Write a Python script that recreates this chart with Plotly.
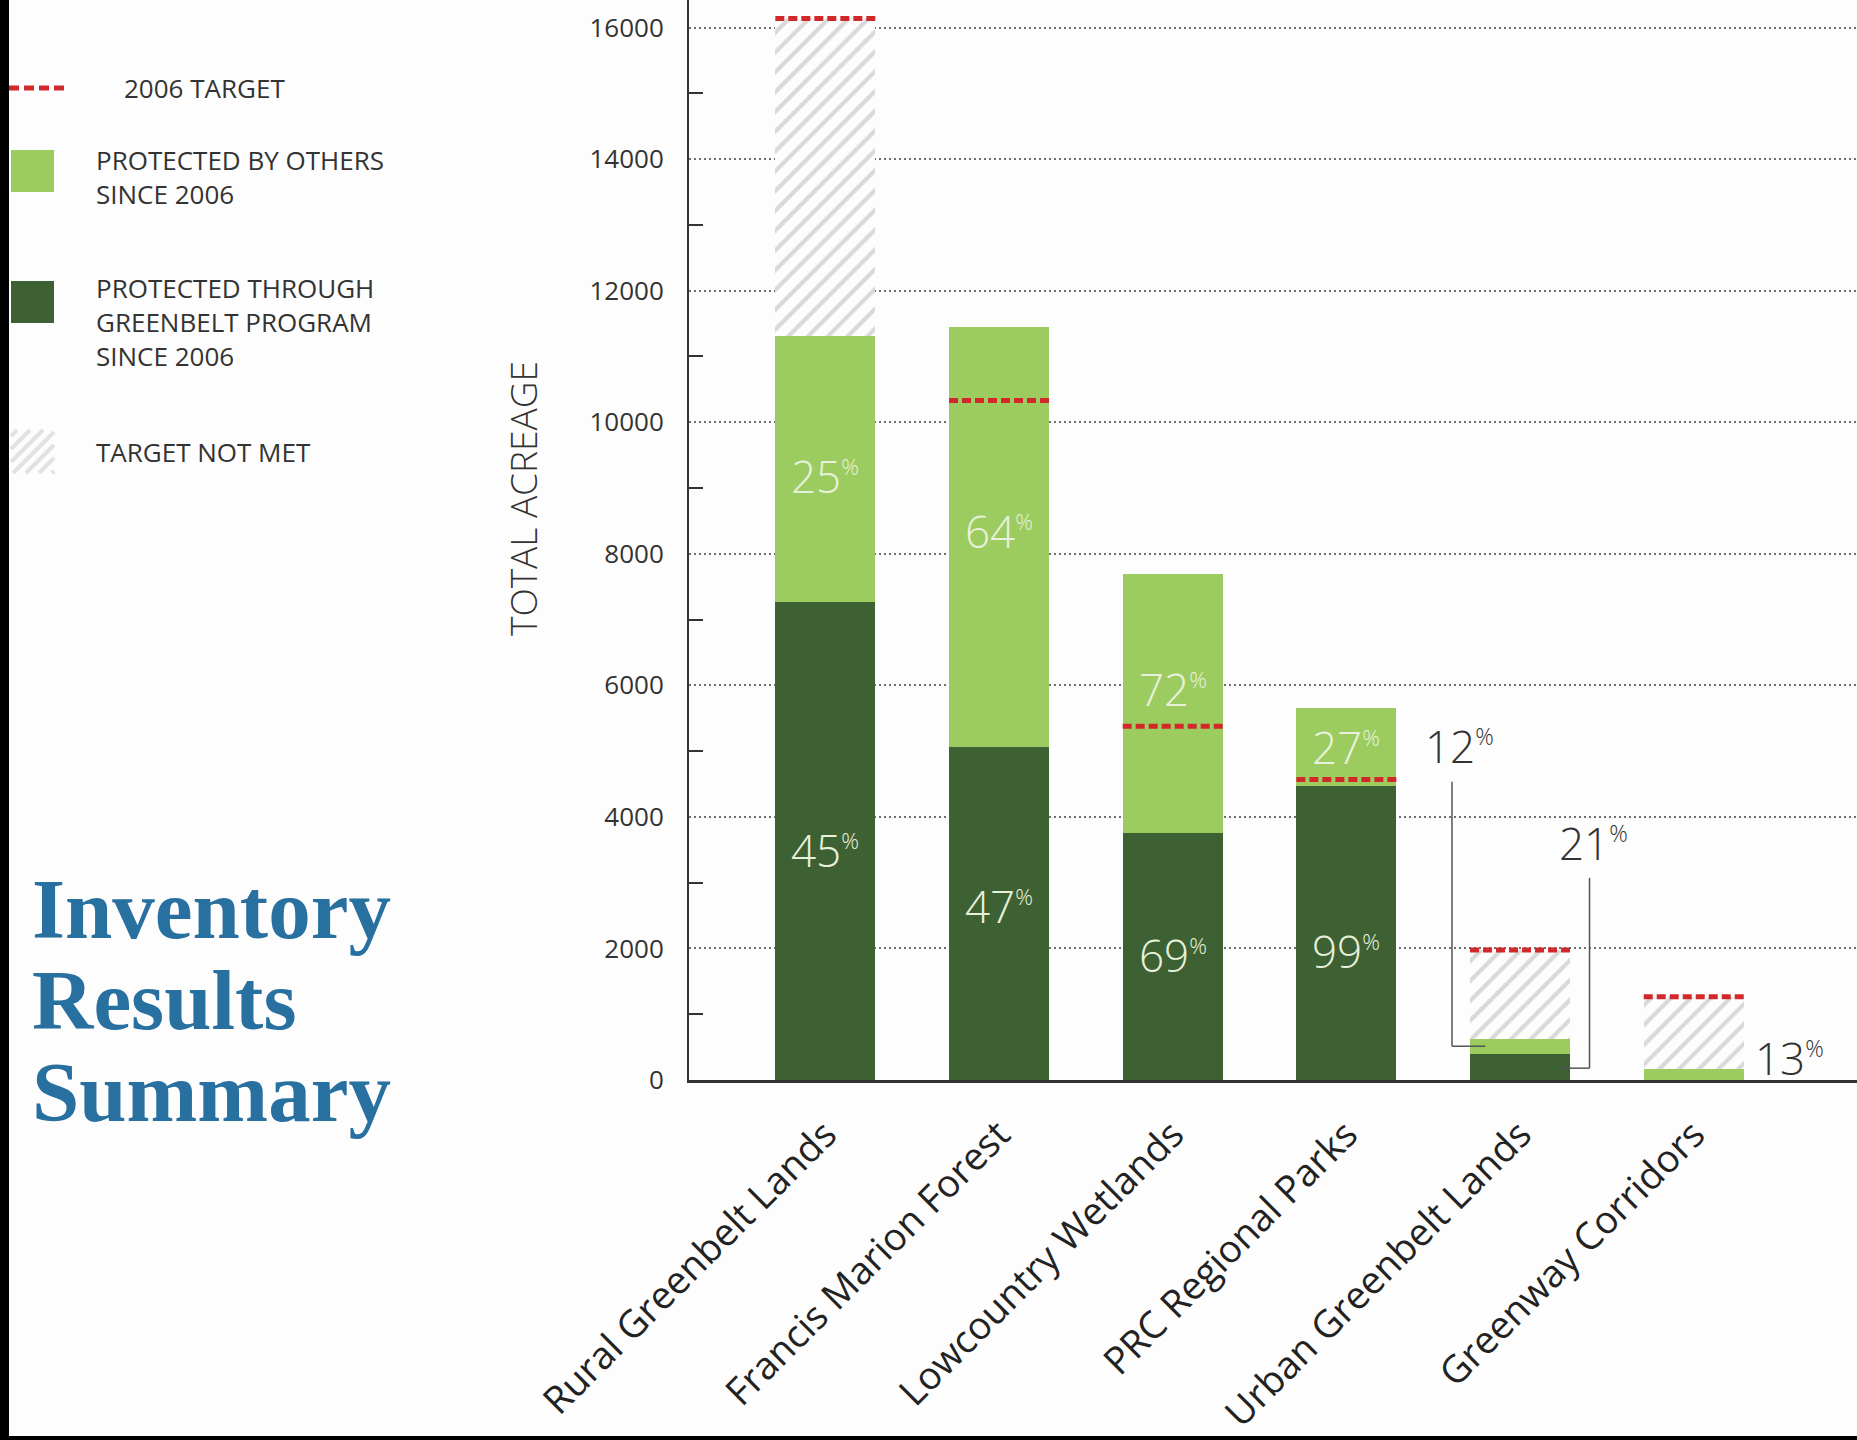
import plotly.graph_objects as go

# ---------------- data ----------------
categories = ["Rural Greenbelt Lands", "Francis Marion Forest", "Lowcountry Wetlands",
              "PRC Regional Parks", "Urban Greenbelt Lands", "Greenway Corridors"]
greenbelt_acres = [7270, 5060, 3760, 4470, 400, 0]      # protected through Greenbelt program
others_acres = [4040, 6390, 3930, 1190, 230, 165]       # protected by others
target_2006 = [16140, 10330, 5380, 4570, 1975, 1265]    # 2006 target
greenbelt_pct = [45, 47, 69, 99, 21, None]
others_pct = [25, 64, 72, 27, 12, 13]
y_ticks = [0, 2000, 4000, 6000, 8000, 10000, 12000, 14000, 16000]

# ---------------- style ----------------
W, H = 1857, 1440
ML, MR, MT, MB = 689, 0, 0, 360
PW, PH = W - ML - MR, H - MT - MB
DARK = "#3e6133"
LIGHT = "#9ccb5f"
RED = "#d1282b"
HATCH = "#d9d9d9"
BG = "#fdfdfd"
TXT = "#333333"
PCT_TXT = "#e8f1dc"
TITLE = "#2870a0"
FONT = "Open Sans"
BAR_W = 0.576
# vertical nudges (px) of the in-bar percentage labels: (greenbelt label, others label)
PCT_SHIFT = [(-9, -7), (8, 6), (1, 14), (-18, 0), (0, 0), (0, 0)]


def px(x):
    return (x - ML) / PW


def py(y):
    return (MT + PH - y) / PH


achieved = [g + o for g, o in zip(greenbelt_acres, others_acres)]
shortfall = [max(t - a, 0) for t, a in zip(target_2006, achieved)]

fig = go.Figure()
fig.add_bar(x=categories, y=greenbelt_acres, width=BAR_W, name="PROTECTED THROUGH GREENBELT PROGRAM",
            marker=dict(color=DARK, line=dict(width=0)))
fig.add_bar(x=categories, y=others_acres, width=BAR_W, name="PROTECTED BY OTHERS",
            marker=dict(color=LIGHT, line=dict(width=0)))
fig.add_bar(x=categories, y=shortfall, width=BAR_W, name="TARGET NOT MET",
            marker=dict(color=BG, line=dict(width=0),
                        pattern=dict(shape="/", fgcolor=HATCH, bgcolor=BG, size=14, solidity=0.3)))

# target dashes
for i, t in enumerate(target_2006):
    fig.add_shape(type="line", xref="x", yref="y", x0=i - BAR_W / 2, x1=i + BAR_W / 2, y0=t, y1=t,
                  line=dict(color=RED, width=5, dash="9px,4px"), layer="above")


def pct_text(p, size_pct):
    return f"{p}<sup><span style='font-size:{size_pct}px'>%</span></sup>"


# percentages inside bars
for i in range(len(categories)):
    g, o = greenbelt_acres[i], others_acres[i]
    sg, so = PCT_SHIFT[i]
    if greenbelt_pct[i] is not None and g > 2500:
        fig.add_annotation(x=i, y=g / 2, xref="x", yref="y", text=pct_text(greenbelt_pct[i], 22),
                           showarrow=False, yshift=sg,
                           font=dict(family=FONT, size=44, color=PCT_TXT, weight=300))
    if o > 1000:
        fig.add_annotation(x=i, y=g + o / 2, xref="x", yref="y", text=pct_text(others_pct[i], 22),
                           showarrow=False, yshift=so,
                           font=dict(family=FONT, size=44, color=PCT_TXT, weight=300))

# callout labels for small segments
urban, green = 4, 5
LEAD = dict(color="#555555", width=1.5)
fig.add_annotation(x=urban - 0.35, y=5080, xref="x", yref="y", text=pct_text(others_pct[urban], 23),
                   showarrow=False, font=dict(family=FONT, size=44, color=TXT, weight=300))
fig.add_shape(type="line", xref="x", yref="y", x0=urban - 0.392, x1=urban - 0.392, y0=4534,
              y1=greenbelt_acres[urban] + others_acres[urban] / 2, line=LEAD)
fig.add_shape(type="line", xref="x", yref="y", x0=urban - 0.392, x1=urban - 0.2,
              y0=greenbelt_acres[urban] + others_acres[urban] / 2,
              y1=greenbelt_acres[urban] + others_acres[urban] / 2, line=LEAD)
fig.add_annotation(x=urban + 0.42, y=3606, xref="x", yref="y", text=pct_text(greenbelt_pct[urban], 23),
                   showarrow=False, font=dict(family=FONT, size=44, color=TXT, weight=300))
fig.add_shape(type="line", xref="x", yref="y", x0=urban + 0.40, x1=urban + 0.40, y0=3073,
              y1=greenbelt_acres[urban] * 0.45, line=LEAD)
fig.add_shape(type="line", xref="x", yref="y", x0=urban + 0.40, x1=urban + 0.24,
              y0=greenbelt_acres[urban] * 0.45, y1=greenbelt_acres[urban] * 0.45, line=LEAD)
fig.add_annotation(x=green + 0.55, y=335, xref="x", yref="y", text=pct_text(others_pct[green], 23),
                   showarrow=False, font=dict(family=FONT, size=44, color=TXT, weight=300))

# y-axis title
fig.add_annotation(x=px(522), y=py(499), xref="paper", yref="paper", text="TOTAL ACREAGE",
                   textangle=-90, showarrow=False, xanchor="center", yanchor="middle",
                   font=dict(family=FONT, size=37, color=TXT, weight=300))

# legend (drawn manually)
fig.add_shape(type="line", xref="paper", yref="paper", x0=px(9), x1=px(65), y0=py(88), y1=py(88),
              line=dict(color=RED, width=5, dash="10px,5px"))
fig.add_shape(type="rect", xref="paper", yref="paper", x0=px(11), x1=px(54), y0=py(192), y1=py(150),
              fillcolor=LIGHT, line=dict(width=0))
fig.add_shape(type="rect", xref="paper", yref="paper", x0=px(11), x1=px(54), y0=py(323), y1=py(281),
              fillcolor=DARK, line=dict(width=0))
hx0, hx1, hy0, hy1 = 11, 54, 430, 473
c = hx0 + hy0 + 6
while c < hx1 + hy1:
    xa, xb = max(hx0, c - hy1), min(hx1, c - hy0)
    if xb > xa:
        fig.add_shape(type="line", xref="paper", yref="paper", x0=px(xa), y0=py(c - xa),
                      x1=px(xb), y1=py(c - xb), line=dict(color="#e2e2e2", width=4))
    c += 13

legend_blocks = [("2006 TARGET", 122, 88), ("PROTECTED BY OTHERS<br>SINCE 2006", 94, 177),
                 ("PROTECTED THROUGH<br>GREENBELT PROGRAM<br>SINCE 2006", 94, 322),
                 ("TARGET NOT MET", 94, 452)]
for txt, lx, ly in legend_blocks:
    fig.add_annotation(x=px(lx), y=py(ly), xref="paper", yref="paper", text=txt, showarrow=False,
                       xanchor="left", yanchor="middle", align="left",
                       font=dict(family=FONT, size=26, color=TXT))

# title
for txt, ly in [("Inventory", 909), ("Results", 1000), ("Summary", 1092)]:
    fig.add_annotation(x=px(30), y=py(ly), xref="paper", yref="paper", text=f"<b>{txt}</b>",
                       showarrow=False, xanchor="left", yanchor="middle",
                       font=dict(family="Liberation Serif", size=85, color=TITLE))

# page frame strips
fig.add_shape(type="rect", xref="paper", yref="paper", x0=px(0), x1=px(9), y0=py(1440), y1=py(0),
              fillcolor="black", line=dict(width=0))
fig.add_shape(type="rect", xref="paper", yref="paper", x0=px(0), x1=px(1857), y0=py(1440), y1=py(1436),
              fillcolor="black", line=dict(width=0))

fig.update_layout(
    width=W, height=H, autosize=False, template="none",
    margin=dict(l=ML, r=MR, t=MT, b=MB, pad=0),
    barmode="stack", showlegend=False,
    paper_bgcolor=BG, plot_bgcolor=BG,
    xaxis=dict(range=[-0.785, 5.94], showline=True, linecolor=TXT, linewidth=3, ticks="",
               showgrid=False, zeroline=False, tickangle=-45, automargin=False,
               tickfont=dict(family=FONT, size=38, color="#222222"), ticklabelstandoff=14),
    yaxis=dict(range=[0, 16420], tickmode="array", tickvals=y_ticks, ticktext=[str(v) for v in y_ticks],
               ticks="", showgrid=True, gridcolor="#6f6f6f",
               griddash="2px,3px", gridwidth=2, showline=True, linecolor=TXT, linewidth=2,
               zeroline=False, automargin=False, ticklabelstandoff=18,
               tickfont=dict(family=FONT, size=26, color=TXT),
               minor=dict(tickmode="array", tickvals=[v + 1000 for v in y_ticks[:-1]], ticks="inside",
                          ticklen=14, tickwidth=2, tickcolor=TXT, showgrid=False)),
)

fig.write_html("out.html")
